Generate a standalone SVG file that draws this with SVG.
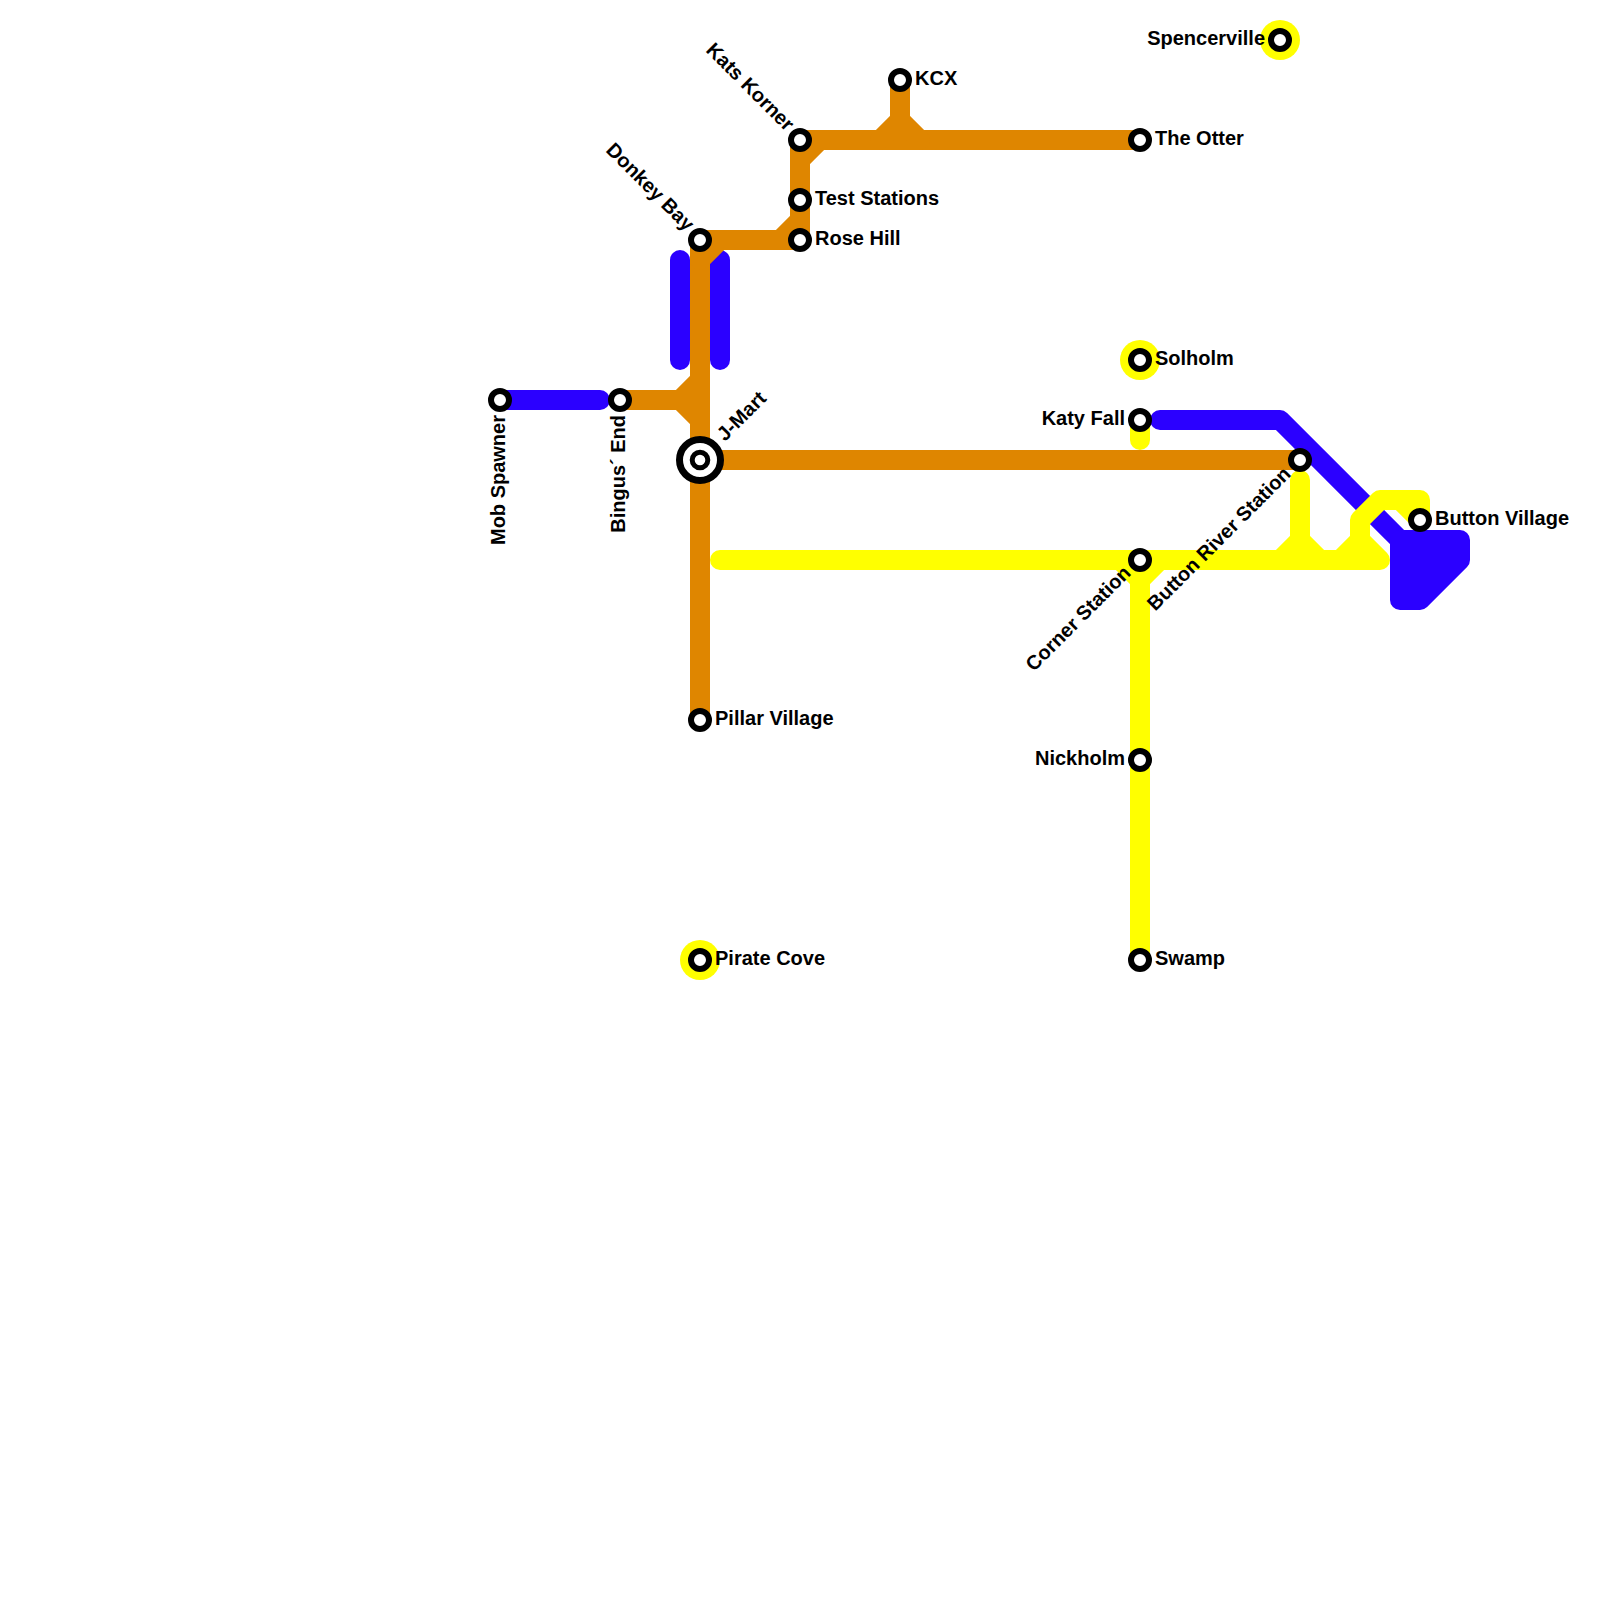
<svg xmlns="http://www.w3.org/2000/svg" width="1600" height="1600" viewBox="0 0 1600 1600">
<style>
.ln{fill:none;stroke-width:20;stroke-linecap:round;stroke-linejoin:round}
.b{stroke:#2b00ff}.o{stroke:#df8600}.y{stroke:#ffff00}
.st{fill:#fff;stroke:#000;stroke-width:6}
.halo{fill:#ffff00}
text{font-family:"Liberation Sans",Arial,sans-serif;font-weight:700;font-size:20px;fill:#000}
.e{text-anchor:end}
</style>
<rect width="1600" height="1600" fill="#fff"/>
<g id="connectors">
<g class="ln b">
<path d="M500 400H600"/>
<path d="M680 260V360"/>
<path d="M720 260V360"/>
<path d="M1160 420H1280L1400 540"/>
<path d="M1400 540H1460V560L1420 600H1400Z" fill="#2b00ff"/>
</g>
<g class="ln o">
<path d="M620 400H680L700 380M680 400L700 420"/>
<path d="M700 240V720"/>
<path d="M700 260L720 240M700 240H800M780 240L800 220"/>
<path d="M800 240V140H1140M800 160L820 140"/>
<path d="M900 80V120L880 140M900 120L920 140"/>
<path d="M700 460H1300"/>
</g>
<g class="ln y">
<path d="M1140 420V440"/>
<path d="M720 560H1380L1360 540V520L1380 500H1420V520M1400 500L1420 520M1360 540L1340 560"/>
<path d="M1300 480V540L1280 560M1300 540L1320 560"/>
<path d="M1140 560V960M1140 580L1120 560M1140 580L1160 560"/>
</g>
</g>
<g id="mob-spawner"><circle class="st" cx="500" cy="400" r="9"/><text transform="translate(505 415) rotate(-90)" class="e">Mob Spawner</text></g>
<g id="bingus-end"><circle class="st" cx="620" cy="400" r="9"/><text transform="translate(625 415) rotate(-90)" class="e">Bingus´ End</text></g>
<g id="donkey-bay"><circle class="st" cx="700" cy="240" r="9"/><text transform="translate(686 232) rotate(45)" class="e">Donkey Bay</text></g>
<g id="j-mart"><circle class="st" cx="700" cy="460" r="20.5" style="stroke-width:7"/><circle class="st" cx="700" cy="460" r="7.8" style="stroke-width:5"/><text transform="translate(725 442) rotate(-45)">J-Mart</text></g>
<g id="pillar-village"><circle class="st" cx="700" cy="720" r="9"/><text x="715" y="725">Pillar Village</text></g>
<g id="pirate-cove"><circle class="halo" cx="700" cy="960" r="20"/><circle class="st" cx="700" cy="960" r="9"/><text x="715" y="965">Pirate Cove</text></g>
<g id="kats-korner"><circle class="st" cx="800" cy="140" r="9"/><text transform="translate(786 132) rotate(45)" class="e">Kats Korner</text></g>
<g id="test-stations"><circle class="st" cx="800" cy="200" r="9"/><text x="815" y="205">Test Stations</text></g>
<g id="rose-hill"><circle class="st" cx="800" cy="240" r="9"/><text x="815" y="245">Rose Hill</text></g>
<g id="kcx"><circle class="st" cx="900" cy="80" r="9"/><text x="915" y="85">KCX</text></g>
<g id="the-otter"><circle class="st" cx="1140" cy="140" r="9"/><text x="1155" y="145">The Otter</text></g>
<g id="spencerville"><circle class="halo" cx="1280" cy="40" r="20"/><circle class="st" cx="1280" cy="40" r="9"/><text class="e" x="1265" y="45">Spencerville</text></g>
<g id="solholm"><circle class="halo" cx="1140" cy="360" r="20"/><circle class="st" cx="1140" cy="360" r="9"/><text x="1155" y="365">Solholm</text></g>
<g id="katy-fall"><circle class="st" cx="1140" cy="420" r="9"/><text class="e" x="1125" y="425">Katy Fall</text></g>
<g id="corner-station"><circle class="st" cx="1140" cy="560" r="9"/><text transform="translate(1132 574) rotate(-45)" class="e">Corner Station</text></g>
<g id="nickholm"><circle class="st" cx="1140" cy="760" r="9"/><text class="e" x="1125" y="765">Nickholm</text></g>
<g id="swamp"><circle class="st" cx="1140" cy="960" r="9"/><text x="1155" y="965">Swamp</text></g>
<g id="button-river-station"><circle class="st" cx="1300" cy="460" r="9"/><text transform="translate(1292 475) rotate(-45)" class="e">Button River Station</text></g>
<g id="button-village"><circle class="st" cx="1420" cy="520" r="9"/><text x="1435" y="525">Button Village</text></g>
</svg>
